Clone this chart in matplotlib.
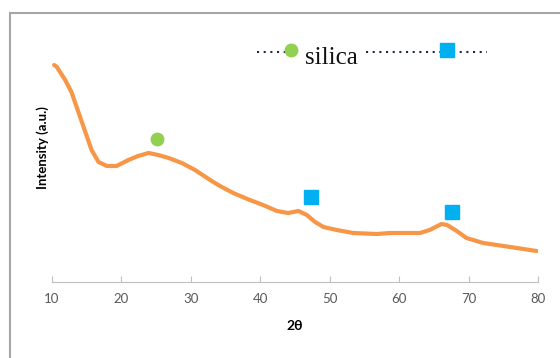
import matplotlib
matplotlib.use("Agg")
import matplotlib.pyplot as plt
from matplotlib.lines import Line2D
from matplotlib.patches import Rectangle

# datos (intensidad en unidades arbitrarias)
two_theta = [10.3, 10.7, 11.9, 12.8, 13.8, 14.8, 15.7, 16.7, 17.9, 19.3, 21.0,
             22.4, 23.9, 25.3, 26.8, 28.7, 30.6, 33.0, 34.2, 36.1, 38.5,
             40.4, 42.4, 44.0, 45.5, 46.7, 47.9, 49.1, 51.0, 53.4, 56.8, 58.7,
             63.0, 64.4, 66.1, 66.9, 68.3, 69.7, 72.1, 76.0, 79.8]
intensity = [217, 215, 202, 190, 170, 150, 132, 120, 116, 116, 122,
             126, 129, 127, 124, 119, 112, 101, 96, 89, 82,
             77, 71, 69, 71, 67, 60, 55, 52, 49, 48, 49,
             49, 52, 58, 57, 51, 44, 39, 35, 31]

silica_x = [25.1]
silica_y = [143]
other_x = [47.3, 67.6]
other_y = [85, 70]

x_ticks = [10, 20, 30, 40, 50, 60, 70, 80]

W, H = 560, 358
fig = plt.figure(figsize=(W / 100, H / 100), dpi=100)
plt.rcParams['font.family'] = ['Lato', 'DejaVu Sans']

# marco de la figura
fig.add_artist(Rectangle((10 / W, -0.1), 1.2, 1 - 13 / H + 0.1, transform=fig.transFigure,
                         fill=False, edgecolor='#a6a6a6', linewidth=1.5))

ax = fig.add_axes([52 / W, 1 - 282 / H, (538 - 52) / W, (282 - 13) / H])
ax.plot(two_theta, intensity, color='#F79646', linewidth=3.0,
        solid_joinstyle='round', solid_capstyle='round')
ax.plot(silica_x, silica_y, 'o', color='#92D050', markersize=9)
ax.plot(other_x, other_y, 's', color='#00B0F0', markersize=9.5)

ax.set_xlim(10, 80)
ax.set_ylim(0, 269)
ax.set_xticks(x_ticks)
ax.set_yticks([])
for s in ['top', 'right', 'left']:
    ax.spines[s].set_visible(False)
ax.spines['bottom'].set_color('#bfbfbf')
ax.tick_params(axis='x', direction='in', length=4, color='#bfbfbf',
               labelsize=9.5, labelcolor='#595959', pad=8)
ax.set_xlabel('2θ', fontsize=10, fontweight='bold', labelpad=11)
ax.set_ylabel('Intensity (a.u.)', fontsize=9.5, fontweight='bold', labelpad=2)

# leyenda dibujada a mano (estilo Excel)
def fx(px):
    return px / W

def fy(py):
    return 1 - py / H

ly = fy(52)
for x0, x1 in [(257, 287), (366, 442), (453, 487)]:
    fig.add_artist(Line2D([fx(x0), fx(x1)], [ly, ly], transform=fig.transFigure,
                          color='#1f2a44', linestyle=(0, (1, 2.2)), linewidth=1.5))
fig.add_artist(Line2D([fx(291)], [fy(50)], transform=fig.transFigure, marker='o',
                      color='#92D050', markersize=9, linestyle='none'))
fig.add_artist(Line2D([fx(447)], [fy(50)], transform=fig.transFigure, marker='s',
                      color='#00B0F0', markersize=9.5, linestyle='none'))
fig.text(fx(305), fy(64), 'silica', fontsize=18, family=['Liberation Serif', 'DejaVu Serif'],
         va='baseline', ha='left', color='#111111')

fig.savefig('out.png', dpi=100)
